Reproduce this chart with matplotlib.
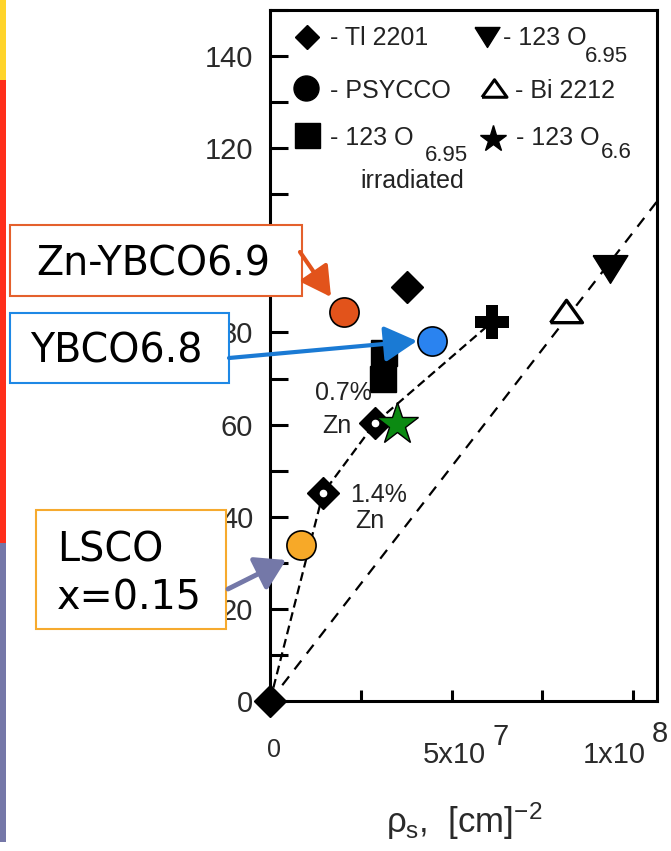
import matplotlib
matplotlib.use('Agg')
import matplotlib.pyplot as plt
from matplotlib.patches import Rectangle, FancyArrowPatch
from matplotlib.lines import Line2D

W, H = 671, 851
plt.rcParams['font.family'] = ['Liberation Sans', 'DejaVu Sans']
plt.rcParams['mathtext.fontset'] = 'custom'
plt.rcParams['mathtext.rm'] = 'Liberation Sans'
plt.rcParams['mathtext.it'] = 'Liberation Sans'

# ---------------- data (x: rho_s in units of 1e7 cm^-2, y: Tc in K) ----------------
tl2201_x = [0.0, 3.77]
tl2201_y = [0.0, 89.9]
tl2201_zn_x = [1.46, 2.89]
tl2201_zn_y = [45.1, 60.3]
irradiated_x = [3.15, 3.11]
irradiated_y = [75.6, 70.0]
o695_x = [9.37]
o695_y = [93.8]
bi2212_x = [8.15]
bi2212_y = [84.7]
plus_x = [6.12]
plus_y = [82.3]
o66_x = [3.50]
o66_y = [60.2]
zn_ybco69_x = [2.04]
zn_ybco69_y = [84.4]
ybco68_x = [4.46]
ybco68_y = [78.1]
lsco_x = [0.85]
lsco_y = [33.9]
line1_x = [0.0, 1.46, 2.89, 6.12]
line1_y = [0.0, 45.1, 60.3, 82.3]
line2_x = [0.0, 11.0]
line2_y = [0.0, 111.9]

y_ticks = list(range(0, 151, 10))
# the "100" label is fully hidden behind the Zn-YBCO6.9 call-out box in the reference
y_tick_labels = [str(v) if v % 20 == 0 and v <= 140 and v != 100 else '' for v in y_ticks]
x_ticks = [0, 2.5, 5, 7.5, 10]
x_tick_bases = ['0', '5x10', '1x10']
x_tick_exps = ['', '7', '8']

# ---------------- figure ----------------
fig = plt.figure(figsize=(W / 100, H / 100), dpi=100)
ax = fig.add_axes([270 / W, 1 - 701 / H, (657 - 270) / W, (701 - 10) / H])
ax.set_xlim(0, 10.66)
ax.set_ylim(0, 150)
for s in ax.spines.values():
    s.set_linewidth(2.2)
ax.set_yticks(y_ticks)
ax.set_yticklabels(y_tick_labels)
ax.set_xticks(x_ticks)
ax.set_xticklabels([''] * len(x_ticks))
ax.tick_params(axis='y', direction='in', length=13, width=2.2, pad=12,
               labelsize=21, labelcolor='#2a2a2a')
ax.tick_params(axis='x', direction='in', length=8, width=2.2)

TXT = '#222222'

# lines
ax.plot(line1_x, line1_y, color='black', lw=1.6, dashes=(4, 2.2), zorder=2)
ax.plot(line2_x, line2_y, color='black', lw=1.6, dashes=(5, 4), zorder=2)

# Tl 2201 diamonds
ax.plot(tl2201_x, tl2201_y, 'D', ms=16, color='black', zorder=3, clip_on=False)
ax.plot(tl2201_zn_x, tl2201_zn_y, 'D', ms=16, color='black', zorder=3)
ax.plot(tl2201_zn_x, tl2201_zn_y, 'o', ms=4.5, color='white', zorder=3.1)

# irradiated squares
ax.plot(irradiated_x, irradiated_y, 's', ms=19, color='black', zorder=3)
# plus
ax.plot(plus_x, plus_y, 'P', ms=25, color='black', mew=0, zorder=3)
# triangles
tri_up = [(-1, -0.7), (1, -0.7), (0, 0.7), (-1, -0.7)]
tri_dn = [(-1, 0.8), (1, 0.8), (0, -0.8), (-1, 0.8)]
ax.plot(bi2212_x, bi2212_y, marker=tri_up, ms=23, mfc='white', mec='black', mew=2.4,
        ls='none', zorder=3)
ax.plot(o695_x, o695_y, marker=tri_dn, ms=25, color='black', ls='none', zorder=3)

# coloured added points
ax.plot(o66_x, o66_y, '*', ms=32, mfc='#0b8a12', mec='black', mew=1.0, zorder=4)
ax.plot(zn_ybco69_x, zn_ybco69_y, 'o', ms=21, mfc='#e2531b', mec='black', mew=1.2, zorder=4)
ax.plot(ybco68_x, ybco68_y, 'o', ms=21, mfc='#2a83f0', mec='black', mew=1.2, zorder=4)
ax.plot(lsco_x, lsco_y, 'o', ms=21, mfc='#f7a928', mec='black', mew=1.2, zorder=4)


def fx(px):
    return px / W


def fy(py):
    return 1 - py / H


def ftext(px, py, s, **kw):
    kw.setdefault('color', TXT)
    return fig.text(fx(px), fy(py), s, **kw)


def fmark(px, py, **kw):
    fig.add_artist(Line2D([fx(px)], [fy(py)], transform=fig.transFigure, ls='none', **kw))


# Zn annotations
ftext(315, 400, '0.7%', fontsize=18, va='baseline')
ftext(322, 433, 'Zn', fontsize=18, va='baseline')
ftext(350, 502, '1.4%', fontsize=18, va='baseline')
ftext(355, 528, 'Zn', fontsize=18, va='baseline')

# legend
fmark(307, 37, marker='D', ms=12, color='black')
ftext(330, 45, '- Tl 2201', fontsize=18, va='baseline')
fmark(487, 37, marker=tri_dn, ms=18, color='black')
ftext(503, 45, '- 123 O', fontsize=18, va='baseline')
ftext(585, 62, '6.95', fontsize=16, va='baseline')
fmark(306, 88, marker='o', ms=18, color='black')
ftext(330, 98, '- PSYCCO', fontsize=18, va='baseline')
fmark(494, 88, marker=tri_up, ms=18, mfc='white', mec='black', mew=2.2)
ftext(515, 98, '- Bi 2212', fontsize=18, va='baseline')
fmark(307, 135, marker='s', ms=18, color='black')
ftext(330, 145, '- 123 O', fontsize=18, va='baseline')
ftext(425, 161, '6.95', fontsize=16, va='baseline')
fmark(493, 139, marker='*', ms=20, color='black')
ftext(516, 145, '- 123 O', fontsize=18, va='baseline')
ftext(601, 158, '6.6', fontsize=16, va='baseline')
ftext(360, 188, 'irradiated', fontsize=18, va='baseline')

# x tick labels
ftext(274, 757, x_tick_bases[0], fontsize=18, ha='center', va='baseline', color='#2a2a2a')
ftext(423, 763, x_tick_bases[1], fontsize=21, ha='left', va='baseline', color='#2a2a2a')
ftext(493, 745, x_tick_exps[1], fontsize=21, ha='left', va='baseline', color='#2a2a2a')
ftext(583, 763, x_tick_bases[2], fontsize=21, ha='left', va='baseline', color='#2a2a2a')
ftext(652, 742, x_tick_exps[2], fontsize=21, ha='left', va='baseline', color='#2a2a2a')

# x label
ftext(464, 833, r'$\rho_{s}$,  [cm]$^{-2}$', fontsize=25, ha='center', va='baseline',
      color='#2a2a2a')

# left colour strip
for y0, y1, c in [(0, 80, '#ffd42a'), (80, 543, '#ff2e1a'), (543, 842, '#7577a8')]:
    fig.add_artist(Rectangle((0, fy(y1)), 6 / W, (y1 - y0) / H, transform=fig.transFigure,
                             facecolor=c, edgecolor='none'))


def fbox(x0, y0, x1, y1, ec):
    fig.add_artist(Rectangle((fx(x0), fy(y1)), (x1 - x0) / W, (y1 - y0) / H,
                             transform=fig.transFigure, facecolor='white', edgecolor=ec,
                             lw=1.5, zorder=5))


def farrow(x0, y0, x1, y1, color, lw, hl, hw):
    fig.add_artist(FancyArrowPatch((fx(x0), fy(y0)), (fx(x1), fy(y1)),
                                   transform=fig.transFigure,
                                   arrowstyle=f'-|>,head_length={hl},head_width={hw}',
                                   mutation_scale=20, color=color, lw=lw,
                                   shrinkA=0, shrinkB=0, zorder=6))


BOXFONT = 'DejaVu Sans'
fbox(10, 225, 302, 296, '#e4602c')
fig.text(fx(153), fy(276), 'Zn-YBCO6.9', fontsize=28.5, family=BOXFONT, ha='center',
         va='baseline', color='black', zorder=7)
farrow(300, 252, 331, 297, '#e2531b', 3, 0.9, 0.5)

fbox(10, 313, 229, 383, '#1e88e5')
fig.text(fx(116), fy(363), 'YBCO6.8', fontsize=28.5, family=BOXFONT, ha='center',
         va='baseline', color='black', zorder=7)
farrow(229, 358, 417, 341, '#1a7ad4', 3, 1.0, 0.55)

fbox(36, 510, 226, 629, '#f6aa2e')
fig.text(fx(57), fy(562), 'LSCO', fontsize=28.5, family=BOXFONT, ha='left',
         va='baseline', color='black', zorder=7)
fig.text(fx(57), fy(610), 'x=0.15', fontsize=28.5, family=BOXFONT, ha='left',
         va='baseline', color='black', zorder=7)
farrow(228, 589, 286, 560, '#7478a8', 3.5, 0.9, 0.55)

fig.savefig('out.png', dpi=100)
